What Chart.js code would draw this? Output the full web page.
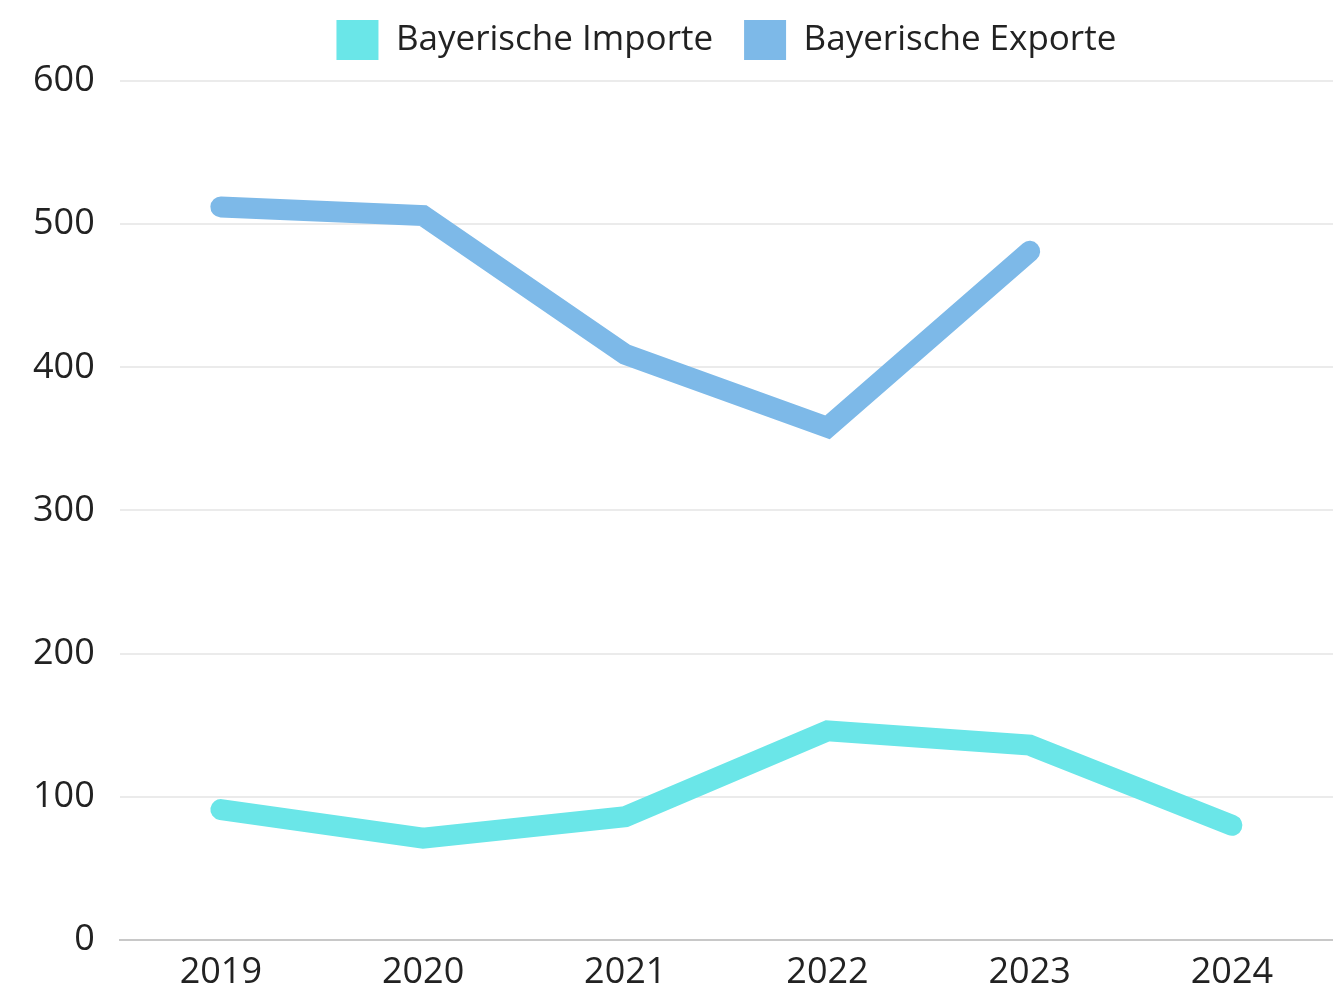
<!DOCTYPE html>
<html>
<head>
<meta charset="utf-8">
<script src="https://cdn.jsdelivr.net/npm/chart.js@4"></script>
<style>
  html, body { margin: 0; padding: 0; background: #fff; overflow: hidden; }
  #wrap { width: 1333px; height: 997px; overflow: hidden; }
</style>
</head>
<body>
<div id="wrap"><canvas id="chart" width="1333" height="1005"></canvas></div>
<script>
// values
const years = ["2019", "2020", "2021", "2022", "2023", "2024"];
const importe = [91, 71, 86, 146, 136, 80];
const exporte = [512, 506, 409, 358, 481, null];
const yTicks = [0, 100, 200, 300, 400, 500, 600];

const importColor = "#6ae6e8";
const exportColor = "#7db9e8";
const tickFont = { family: "Open Sans", size: 36 };

// center the legend over the plot area, not the whole canvas
const legendShift = {
	id: "legendShift",
	afterLayout: function(chart) {
		chart.legend.left = chart.chartArea.left;
		chart.legend.top -= 11;
	}
};

const ctx = document.getElementById("chart").getContext("2d");
new Chart(ctx, {
	type: "line",
	data: {
		labels: years,
		datasets: [
			{
				label: "Bayerische Importe",
				data: importe,
				borderColor: importColor,
				backgroundColor: importColor,
				borderWidth: 21,
				borderCapStyle: "round",
				borderJoinStyle: "miter",
				pointRadius: 0,
				tension: 0
			},
			{
				label: "Bayerische Exporte",
				data: exporte,
				borderColor: exportColor,
				backgroundColor: exportColor,
				borderWidth: 21,
				borderCapStyle: "round",
				borderJoinStyle: "miter",
				pointRadius: 0,
				tension: 0
			}
		]
	},
	plugins: [legendShift],
	options: {
		responsive: false,
		animation: false,
		layout: { padding: { left: 8, right: 0, top: 0, bottom: 0 } },
		plugins: {
			legend: {
				position: "top",
				labels: {
					font: { family: "Open Sans", size: 35 },
					color: "#222",
					boxWidth: 42,
					boxHeight: 40,
					padding: 31,
					generateLabels: function(chart) {
						return chart.data.datasets.map(function(ds, i) {
							return {
								text: ds.label,
								fillStyle: ds.borderColor,
								strokeStyle: ds.borderColor,
								lineWidth: 0,
								datasetIndex: i,
								fontColor: "#222"
							};
						});
					}
				}
			},
			tooltip: { enabled: false }
		},
		scales: {
			x: {
				offset: true,
				grid: { display: false, drawTicks: false },
				border: { display: true, color: "#c8c8c8", width: 2 },
				ticks: {
					font: tickFont,
					color: "#222",
					padding: 11
				}
			},
			y: {
				min: 0,
				max: 600,
				afterBuildTicks: function(axis) {
					axis.ticks = yTicks.map(function(v) { return { value: v }; });
				},
				grid: { color: "#ebebeb", lineWidth: 2, drawTicks: false },
				border: { display: false },
				ticks: {
					font: tickFont,
					color: "#222",
					padding: 25
				}
			}
		}
	}
});
</script>
</body>
</html>
